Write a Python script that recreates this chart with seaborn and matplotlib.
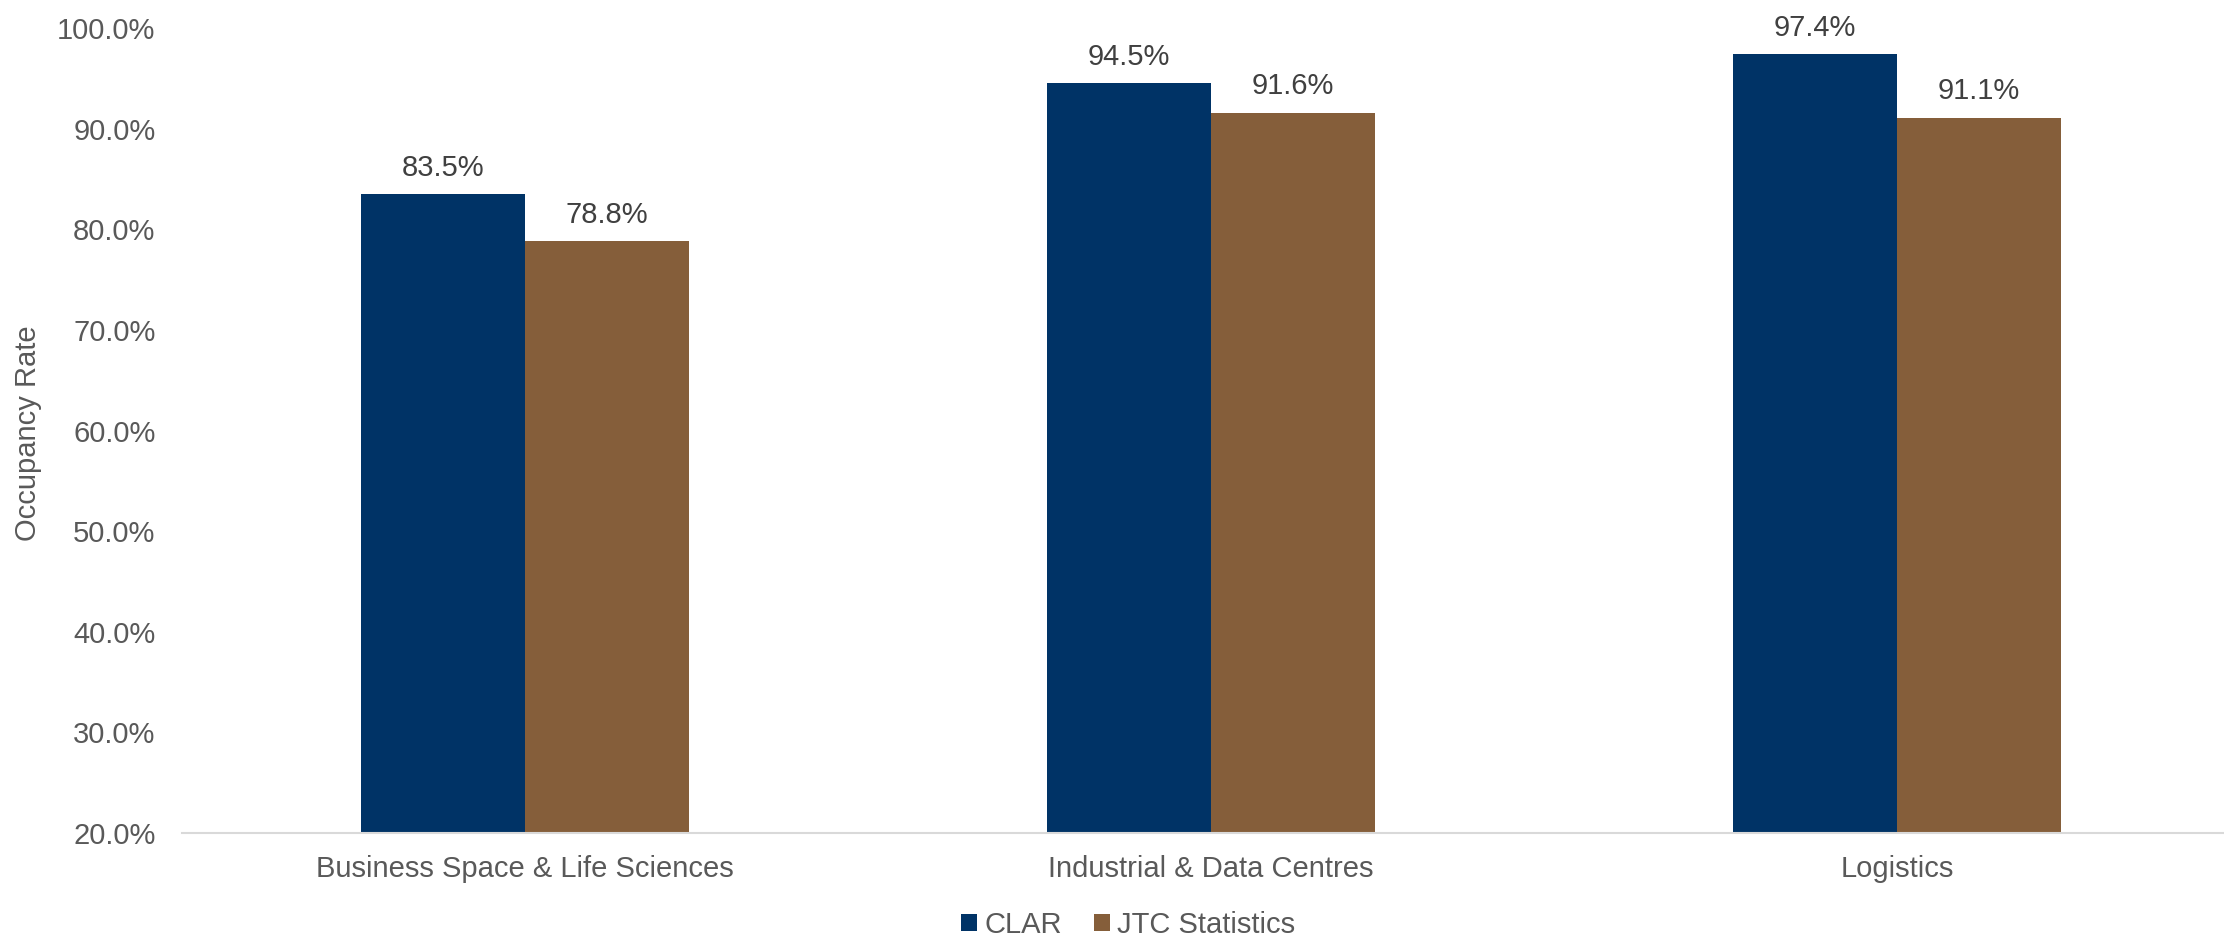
import matplotlib
matplotlib.use("Agg")
import matplotlib.pyplot as plt
import seaborn as sns
import pandas as pd
from matplotlib.patches import Patch
from matplotlib.ticker import FuncFormatter

categories = ["Business Space & Life Sciences", "Industrial & Data Centres", "Logistics"]
series_names = ["CLAR", "JTC Statistics"]
clar_values = [83.5, 94.5, 97.4]
jtc_values = [78.8, 91.6, 91.1]
y_ticks = [20, 30, 40, 50, 60, 70, 80, 90, 100]
colors = ["#003366", "#855E3A"]

df = pd.DataFrame({
    "Category": categories * 2,
    "Series": [series_names[0]] * 3 + [series_names[1]] * 3,
    "Value": clar_values + jtc_values,
})

sns.set_theme(style="white")
plt.rcParams["font.family"] = ["Liberation Sans", "DejaVu Sans"]

FS = 21
W, H = 2224, 939
fig = plt.figure(figsize=(W / 100, H / 100), dpi=100)
ax_left, ax_right = 182, 2240
ax_top, ax_bottom = 28, 833
ax = fig.add_axes([ax_left / W, 1 - ax_bottom / H, (ax_right - ax_left) / W, (ax_bottom - ax_top) / H])

sns.barplot(data=df, x="Category", y="Value", hue="Series", order=categories,
            hue_order=series_names, palette=colors, width=0.478, ax=ax,
            saturation=1, legend=False, linewidth=0, errorbar=None)

ax.set_xlim(-0.5, 2.5)
ax.set_ylim(20, 100)
ax.set_yticks(y_ticks)
ax.yaxis.set_major_formatter(FuncFormatter(lambda v, p: f"{v:.1f}%"))
ax.tick_params(axis="both", length=0, labelsize=FS, colors="#595959")
ax.tick_params(axis="y", pad=19)
ax.tick_params(axis="x", pad=16)
ax.set_xlabel("")
ax.set_ylabel("")
for s in ["top", "right", "left"]:
    ax.spines[s].set_visible(False)
ax.spines["bottom"].set_color("#D9D9D9")
ax.spines["bottom"].set_linewidth(1.5)
ax.grid(False)

for cont in ax.containers:
    ax.bar_label(cont, labels=[f"{v:.1f}%" for v in cont.datavalues],
                 padding=9, fontsize=FS, color="#404040")

fig.text(28 / W, 1 - 433 / H, "Occupancy Rate", rotation=90, ha="center", va="center",
         fontsize=FS, color="#595959")

handles = [Patch(facecolor=c, edgecolor="none", label=n) for c, n in zip(colors, series_names)]
fig.legend(handles=handles, loc="center", bbox_to_anchor=(1128 / W, 1 - 925 / H), ncol=2,
           frameon=False, fontsize=FS, labelcolor="#595959", handlelength=0.55,
           handleheight=0.55, handletextpad=0.25, columnspacing=1.1, borderpad=0)

fig.savefig("out.png", dpi=100)
